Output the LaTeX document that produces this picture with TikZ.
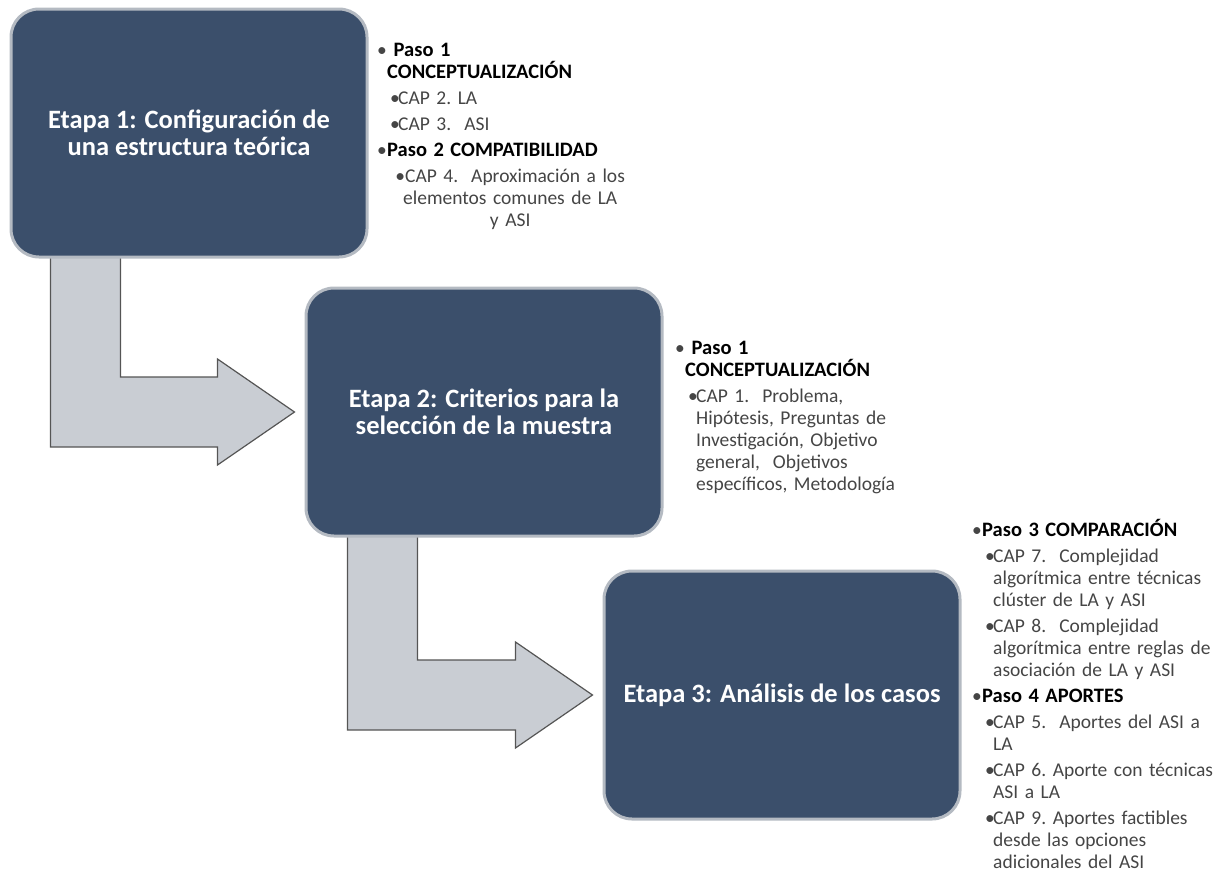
\documentclass[tikz,border=0pt]{standalone}
\usepackage{fontspec}
\setmainfont{Carlito}
\usetikzlibrary{calc, backgrounds}

\definecolor{etapafill}{HTML}{3B4F6B}
\definecolor{etapaedge}{HTML}{B4BAC2}
\definecolor{flechafill}{HTML}{C9CDD3}
\definecolor{flechaedge}{HTML}{555555}
\definecolor{textogris}{HTML}{454545}

% list items: bold step, chapter line, centred chapter block
\newcommand{\pasoitem}[1]{\par\hangindent=10pt\hangafter=1\noindent\makebox[10pt][l]{\textbullet}{\color{black}\fontsize{20.5}{22}\selectfont\bfseries #1}}
\newcommand{\capitem}[1]{\par\hangindent=21pt\hangafter=1\noindent\hspace*{13pt}\makebox[8pt][l]{\textbullet}#1}
\newcommand{\capcentro}[1]{\par\noindent\hspace*{6pt}\parbox[t]{254pt}{\centering\textbullet #1}}

\begin{document}
\begin{tikzpicture}[x=1pt, y=-1pt,
  etapa/.style={draw=etapaedge, line width=3pt, fill=etapafill, rounded corners=28pt,
    minimum width=356pt, minimum height=248pt, inner sep=0pt, text=white, align=center,
    font=\fontsize{26.5}{27}\selectfont\bfseries},
  lista/.style={anchor=north west, inner sep=0pt, align=left, text=textogris,
    font=\fontsize{19.5}{22}\selectfont,
    execute at begin node={\frenchspacing\setlength{\parskip}{4pt}}},
  flecha/.style={fill=flechafill, draw=flechaedge, line width=1.2pt, line join=miter}]
\useasboundingbox (0,0) rectangle (1219,871);

% stage boxes
\node[etapa] (e1) at (189,133) {Etapa 1: Configuración de\\una estructura teórica};
\node[etapa] (e2) at (484,412) {Etapa 2: Criterios para la\\selección de la muestra};
\node[etapa] (e3) at (782,695) {Etapa 3: Análisis de los casos};

% bent arrows, behind the boxes
\coordinate (f1a) at ([xshift=41pt,yshift=5pt]e1.south west);
\coordinate (f1p) at ([xshift=-10pt]e2.west);
\coordinate (f2a) at ([xshift=43pt,yshift=5pt]e2.south west);
\coordinate (f2p) at ([xshift=-10pt]e3.west);
\begin{scope}[on background layer]
\filldraw[flecha] (f1a) -- ++(70,0) |- ($(f1p)+(-77,-35)$) -- ($(f1p)+(-77,-53)$) -- (f1p)
  -- ($(f1p)+(-77,53)$) -- ($(f1p)+(-77,35)$) -| (f1a) -- cycle;
\filldraw[flecha] (f2a) -- ++(70,0) |- ($(f2p)+(-77,-35)$) -- ($(f2p)+(-77,-53)$) -- (f2p)
  -- ($(f2p)+(-77,53)$) -- ($(f2p)+(-77,35)$) -| (f2a) -- cycle;
\end{scope}

% step lists
\node[lista, text width=270pt] (l1) at (377,30) {%
\pasoitem{~Paso 1\newline CONCEPTUALIZACIÓN}
\capitem{CAP 2. LA}
\capitem{CAP 3.~~ASI}
\pasoitem{Paso 2 COMPATIBILIDAD}
\capcentro{CAP 4.~~Aproximación a los\\elementos comunes de LA\\y ASI}\par};
\node[lista, text width=260pt] (l2) at (675,328) {%
\pasoitem{~Paso 1\newline CONCEPTUALIZACIÓN}
\capitem{CAP 1.~~Problema,\newline Hipótesis, Preguntas de\newline Investigación, Objetivo\newline general,~~Objetivos\newline específicos, Metodología}\par};
\node[lista, text width=260pt] (l3) at (972,510) {%
\pasoitem{Paso 3 COMPARACIÓN}
\capitem{CAP 7.~~Complejidad\newline algorítmica entre técnicas\newline clúster de LA y ASI}
\capitem{CAP 8.~~Complejidad\newline algorítmica entre reglas de\newline asociación de LA y ASI}
\pasoitem{Paso 4 APORTES}
\capitem{CAP 5.~~Aportes del ASI a\newline LA}
\capitem{CAP 6. Aporte con técnicas\newline ASI a LA}
\capitem{CAP 9. Aportes factibles\newline desde las opciones\newline adicionales del ASI}\par};
\end{tikzpicture}
\end{document}
